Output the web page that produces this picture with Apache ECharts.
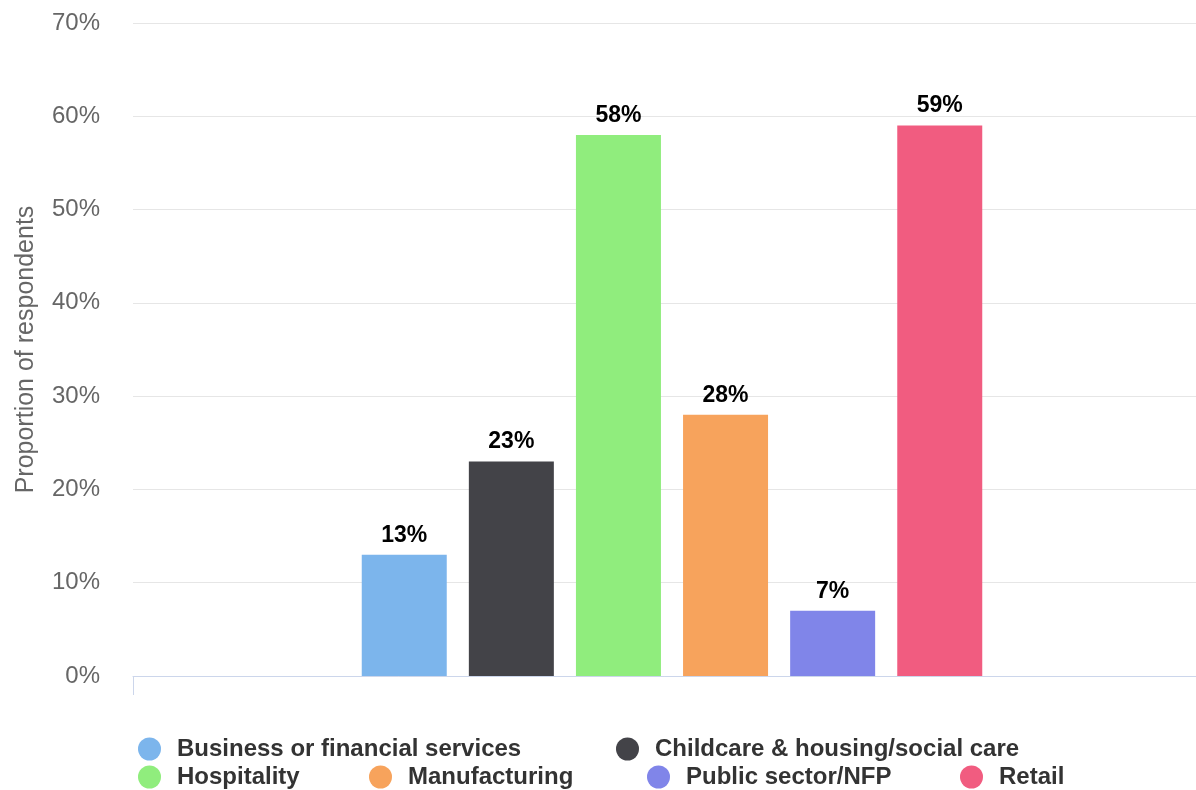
<!DOCTYPE html>
<html>
<head>
<meta charset="utf-8">
<title>Proportion of respondents by sector</title>
<script src="https://cdn.jsdelivr.net/npm/echarts@6/dist/echarts.min.js"></script>
<style>
  html, body { margin: 0; padding: 0; background: #ffffff; }
  #chart { width: 1196px; height: 790px; }
</style>
</head>
<body>
<div id="chart"></div>
<script>
// Sectors and the share of respondents in each (percent)
const sectors = [
  'Business or financial services',
  'Childcare & housing/social care',
  'Hospitality',
  'Manufacturing',
  'Public sector/NFP',
  'Retail'
];
const shares = [13, 23, 58, 28, 7, 59];
const sectorColors = ['#7cb5ec', '#434348', '#90ed7d', '#f7a35c', '#8085e9', '#f15c80'];
const yTicks = [0, 10, 20, 30, 40, 50, 60, 70];

// Legend placement: one legend per sector, laid out in two rows
const legendSpots = [
  { left: 138, top: 737 },
  { left: 616, top: 737 },
  { left: 138, top: 765 },
  { left: 369, top: 765 },
  { left: 647, top: 765 },
  { left: 960, top: 765 }
];

const FONT = "'Liberation Sans', Arial, Helvetica, sans-serif";

const chart = echarts.init(document.getElementById('chart'), null, { renderer: 'canvas' });

const series = sectors.map((name, i) => ({
  name: name,
  type: 'bar',
  data: [shares[i]],
  barWidth: 85,
  barGap: '26%',
  itemStyle: { color: sectorColors[i] },
  label: {
    show: true,
    position: 'top',
    distance: 8,
    formatter: p => p.value + '%',
    color: '#000000',
    fontFamily: FONT,
    fontWeight: 'bold',
    fontSize: 23
  }
}));

const legends = sectors.map((name, i) => ({
  data: [name],
  left: legendSpots[i].left,
  top: legendSpots[i].top,
  padding: 0,
  icon: 'circle',
  itemWidth: 23,
  itemHeight: 23,
  selectedMode: false,
  textStyle: {
    color: '#333333',
    fontFamily: FONT,
    fontWeight: 'bold',
    fontSize: 24,
    padding: [0, 0, 0, 11]
  }
}));

chart.setOption({
  animation: false,
  backgroundColor: '#ffffff',
  grid: {
    left: 133,
    top: 23,
    width: 1078,
    height: 653,
    containLabel: false,
    outerBoundsMode: 'none'
  },
  legend: legends,
  xAxis: {
    type: 'category',
    data: [''],
    axisLine: { show: true, lineStyle: { color: '#ccd6eb', width: 1 } },
    axisTick: { show: true, length: 19, lineStyle: { color: '#ccd6eb' } },
    axisLabel: { show: false },
    splitLine: { show: false }
  },
  yAxis: {
    type: 'value',
    min: yTicks[0],
    max: yTicks[yTicks.length - 1],
    interval: 10,
    name: 'Proportion of respondents',
    nameLocation: 'middle',
    nameGap: 94,
    nameRotate: 90,
    nameTextStyle: { color: '#666666', fontFamily: FONT, fontSize: 25 },
    axisLine: { show: false },
    axisTick: { show: false },
    axisLabel: {
      margin: 33,
      color: '#666666',
      fontFamily: FONT,
      fontSize: 24,
      padding: [14, 0, 0, 0],
      formatter: v => v + '%'
    },
    splitLine: { lineStyle: { color: '#e6e6e6', width: 1 } }
  },
  series: series
});
</script>
</body>
</html>
